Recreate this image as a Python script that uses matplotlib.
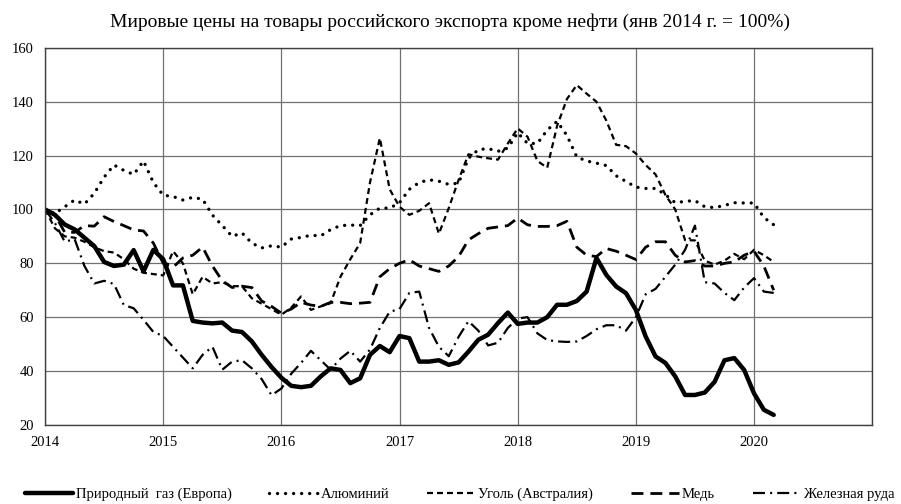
import matplotlib
matplotlib.use('Agg')
import matplotlib.pyplot as plt
import numpy as np

plt.rcParams['font.family'] = ['Liberation Serif', 'DejaVu Serif']

# monthly index values, Jan 2014 = 100 (Jan 2014 .. Mar 2020)
gas = [100, 98, 94.4, 92.6, 89.5, 86.4, 80.5, 79, 79.5, 84.9,
       77, 85, 81.5, 71.8, 71.8, 58.6, 58, 57.7, 58, 55,
       54.5, 51, 46, 41.5, 37.5, 34.5, 34, 34.5, 38, 41,
       40.4, 35.5, 37.3, 46, 49.3, 47, 53, 52.2, 43.5, 43.5,
       44, 42.3, 43.2, 47.2, 51.6, 53.5, 57.8, 61.7, 57.5, 58,
       58, 60, 64.6, 64.6, 66, 69.5, 82, 75.7, 71.4, 68.9,
       62.7, 52.8, 45.4, 43, 38, 31.1, 31.1, 32, 36, 44,
       44.8, 40.4, 31.7, 25.6, 23.7]

aluminium = [100, 98.5, 101, 103.5, 102, 106, 112, 116.5, 114.5, 113,
             118, 110, 105.3, 104.8, 103.5, 104.5, 103.8, 97.9, 94, 90,
             91.3, 87.5, 85.7, 86.5, 86, 89, 89.6, 90.4, 90.2, 92.5,
             94, 94.2, 94, 98, 100.5, 100.5, 102.5, 107.5, 110, 111,
             110.5, 109.3, 109.8, 119, 122.2, 122.6, 121.6, 122.8, 128.5, 124.5,
             124.5, 129.5, 132.7, 127.5, 119.5, 118, 117.2, 116.3, 112.5, 110.4,
             108.3, 107.8, 107.8, 105.5, 102.5, 103, 103.3, 101, 100.7, 101.5,
             102.5, 102.4, 102.4, 97, 94.3]

coal = [100, 93, 90, 89.5, 88, 86, 84.5, 84, 81.5, 78,
        76.5, 76, 75.5, 84.5, 80, 68.5, 75, 72.5, 73, 71.5,
        71.5, 67, 65, 63, 60.9, 63.5, 67.7, 62.7, 64, 65.2,
        75, 81.5, 87.5, 110, 126.5, 107.5, 101, 98, 99.5, 102.3,
        91, 100.5, 111, 120.5, 119.6, 119, 118.5, 124.5, 130.1, 127,
        118, 115.5, 131, 141, 146.2, 143, 140, 133, 124, 123.5,
        120.8, 116.5, 113, 105.4, 100, 88.6, 88.5, 81, 79.5, 81,
        83.5, 81.5, 85, 83, 80.5]

copper = [100, 98, 91.5, 91.5, 94, 93.8, 97.3, 95.5, 94, 92.4,
          92, 87.5, 80, 78.5, 82, 83, 86, 79, 73.5, 71,
          71.5, 71, 66, 64, 61.5, 63, 65.5, 64.5, 64, 65.5,
          65.5, 65, 65.2, 65.5, 75, 78, 80, 81.3, 79, 78,
          77, 79, 82.5, 88.7, 91, 93, 93.5, 94, 96.8, 94.3,
          93.7, 93.7, 94, 95.6, 86, 83, 82.5, 85.5, 84.5, 83,
          81.4, 86, 88, 88, 83, 80.5, 81, 79, 79, 80,
          80.5, 83, 84.5, 79, 70]

iron_ore = [100, 95, 88, 89, 79, 72.5, 73.5, 72.3, 64.5, 63.3,
            59, 54.5, 53, 49, 45, 41, 46, 49, 40.5, 43.5,
            44, 41, 37, 31, 33.5, 39, 43, 47.5, 44, 40.5,
            44.6, 47.5, 43.5, 48, 56, 62, 63, 69, 69.5, 56,
            49, 45.5, 52.7, 58.5, 55, 49.5, 50.5, 56, 59.5, 60,
            54, 51.5, 51, 50.8, 51, 53, 55.5, 57, 57, 55,
            60, 68.5, 70.5, 75, 79.5, 85, 94, 73, 72.5, 69,
            66.3, 71, 74.5, 69.5, 69]

labels = ['Природный  газ (Европа)', 'Алюминий', 'Уголь (Австралия)',
          'Медь', 'Железная руда']
year_ticks = [2014, 2015, 2016, 2017, 2018, 2019, 2020, 2021]
year_labels = ['2014', '2015', '2016', '2017', '2018', '2019', '2020', '']

x = 2014 + np.arange(len(gas)) / 12.0

fig = plt.figure(figsize=(9.01, 5.04), dpi=100)
ax = fig.add_axes([0.05, 0.157, 0.918, 0.748])

ax.plot(x, iron_ore, color='black', lw=1.6, linestyle=(0, (5.4, 2.3, 0.9, 2.3)), label=labels[4])
ax.plot(x, copper, color='black', lw=2.0, linestyle=(0, (4.3, 2.5)), label=labels[3])
ax.plot(x, coal, color='black', lw=1.6, linestyle=(0, (2.7, 1.8)), label=labels[2])
ax.plot(x, aluminium, color='black', lw=2.4, linestyle=(0, (0.01, 2.4)),
        dash_capstyle='round', label=labels[1])
ax.plot(x, gas, color='black', lw=3.2, solid_capstyle='round', label=labels[0])

ax.set_xlim(2014, 2021)
ax.set_ylim(20, 160)
ax.set_xticks(year_ticks)
ax.set_xticklabels(year_labels)
ax.set_yticks(range(20, 161, 20))
ax.grid(True, color='#707070', lw=0.9)
ax.set_axisbelow(True)
for s in ax.spines.values():
    s.set_color('#404040')
    s.set_linewidth(1.0)
ax.tick_params(axis='both', length=0, labelsize=10.5)
ax.tick_params(axis='y', pad=8)
ax.tick_params(axis='x', pad=8)

fig.text(0.5, 0.955, 'Мировые цены на товары российского экспорта кроме нефти (янв 2014 г. = 100%)',
         ha='center', va='center', fontsize=14)

handles, labs = ax.get_legend_handles_labels()
order = [4, 3, 2, 1, 0]
fig.legend([handles[i] for i in order], [labs[i] for i in order],
           loc='lower center', bbox_to_anchor=(0.51, -0.02), ncol=5, frameon=False,
           fontsize=10.5, handlelength=3.3, handletextpad=0.2, columnspacing=2.6)

plt.savefig('out.png', dpi=100)
plt.close()
